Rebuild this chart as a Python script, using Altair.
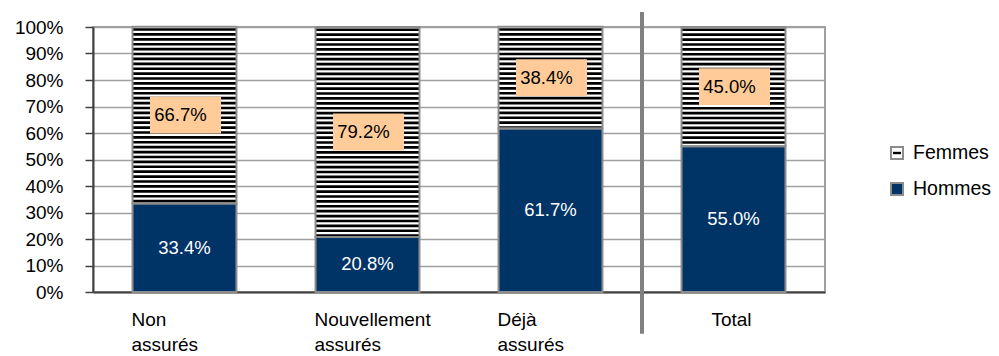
import altair as alt
import pandas as pd

# --- data -------------------------------------------------------------
categories = ["Non assurés", "Nouvellement assurés", "Déjà assurés", "Total"]
hommes = [33.4, 20.8, 61.7, 55.0]
femmes = [66.7, 79.2, 38.4, 45.0]
series = ["Femmes", "Hommes"]
y_ticks = list(range(0, 101, 10))

# --- style ------------------------------------------------------------
NAVY = "#003366"
PEACH = "#FFCC99"
GRID = "#A0A0A0"
EDGE = "#8C8C8C"
AXIS = "#404040"
SEP = "#808080"
FONT = "Liberation Sans"

W, H = 732, 265
PAD_IN = 0.432
PAD_OUT = PAD_IN / 2
STEP = W / len(categories)
# the divider sits on the step boundary just left of the "Total" band
SEP_SHIFT = -(PAD_IN / 2) * STEP
SEP_TOP, SEP_BOTTOM = 105.7, -15.8   # divider overshoots the plot area

STRIPE_STEP, STRIPE_BLACK = 1.85, 1.0  # hatching of the "Femmes" segment

# --- tables built from the arrays ------------------------------------
seg_rows = []
for c, h, f in zip(categories, hommes, femmes):
    seg_rows.append({"cat": c, "serie": "Hommes", "val": h, "y0": 0.0, "y1": h})
    seg_rows.append({"cat": c, "serie": "Femmes", "val": f, "y0": h, "y1": h + f})
seg = pd.DataFrame(seg_rows)
seg["mid"] = (seg["y0"] + seg["y1"]) / 2
seg["label"] = seg["val"].map(lambda v: f"{v:.1f}%")

stripe_rows = []
for c, h, f in zip(categories, hommes, femmes):
    t = h + f - 0.55
    while t > h:
        stripe_rows.append({"cat": c, "s0": t, "s1": max(t - STRIPE_BLACK, h)})
        t -= STRIPE_STEP
stripes = pd.DataFrame(stripe_rows)

sep_df = pd.DataFrame({"cat": ["Total"], "top": [SEP_TOP], "bottom": [SEP_BOTTOM]})

# --- shared scales / axes --------------------------------------------
x_scale = alt.Scale(domain=categories, paddingInner=PAD_IN, paddingOuter=PAD_OUT)
y_scale = alt.Scale(domain=[0, 100], nice=False)

x_axis = alt.Axis(
    title=None,
    ticks=False,
    domainColor=AXIS,
    domainWidth=2,
    labelExpr="split(datum.label, ' ')",
    labelAlign=alt.condition("datum.value == 'Total'", alt.value("center"), alt.value("left")),
    labelOffset=alt.condition("datum.value == 'Total'", alt.value(-2), alt.value(-53)),
    labelFontSize=19,
    labelLineHeight=25,
    labelPadding=18,
    labelAngle=0,
)
y_axis = alt.Axis(
    title=None,
    values=y_ticks,
    labelExpr="datum.value + '%'",
    tickSize=8,
    tickColor=AXIS,
    tickWidth=1.5,
    domainColor=AXIS,
    domainWidth=2,
    gridColor=GRID,
    gridWidth=1.5,
    labelFontSize=19,
    labelPadding=22,
)


def X(field="cat:N", **kw):
    return alt.X(field, scale=x_scale, axis=x_axis, **kw)


def Y(field):
    return alt.Y(field, scale=y_scale, axis=y_axis)


fill_scale = alt.Scale(domain=series, range=["white", NAVY])

bars = alt.Chart(seg).mark_bar(strokeWidth=0).encode(
    x=X(), y=Y("y0:Q"), y2="y1:Q",
    fill=alt.Fill("serie:N", scale=fill_scale, legend=None),
)

hatch = alt.Chart(stripes).mark_bar(color="black", strokeWidth=0).encode(
    x=X(), y=Y("s0:Q"), y2="s1:Q",
)

outline = alt.Chart(seg).mark_bar(fillOpacity=0, stroke=EDGE, strokeWidth=2).encode(
    x=X(), y=Y("y0:Q"), y2="y1:Q",
)

femmes_seg = alt.Chart(seg).transform_filter("datum.serie == 'Femmes'")
hommes_seg = alt.Chart(seg).transform_filter("datum.serie == 'Hommes'")

boxes = femmes_seg.mark_point(
    shape="M-1,-0.52L1,-0.52L1,0.52L-1,0.52Z",
    size=71 * 71, filled=True, fill=PEACH, opacity=1, strokeWidth=0, xOffset=1,
).encode(x=X(), y=Y("mid:Q"))

femmes_txt = femmes_seg.mark_text(
    font=FONT, fontSize=18.5, color="black", dx=-4,
).encode(x=X(), y=Y("mid:Q"), text="label:N")

hommes_txt = hommes_seg.mark_text(
    font=FONT, fontSize=18.5, color="white",
).encode(x=X(), y=Y("mid:Q"), text="label:N")

divider = alt.Chart(sep_df).mark_rule(color=SEP, strokeWidth=4, xOffset=SEP_SHIFT).encode(
    x=X(bandPosition=0), y=Y("top:Q"), y2="bottom:Q",
)

main = alt.layer(
    bars, hatch, outline, boxes, femmes_txt, hommes_txt, divider
).properties(
    width=W, height=H,
    view=alt.ViewBackground(stroke=GRID, strokeWidth=2),
)

# --- legend drawn as its own small panel ------------------------------
leg = pd.DataFrame({"serie": series})
leg_y = alt.Y("serie:N", scale=alt.Scale(type="point", domain=series, range=[126, 162], padding=0), axis=None)

leg_sym = alt.Chart(leg).mark_square(
    size=144, filled=True, stroke=EDGE, strokeWidth=2, opacity=1,
).encode(x=alt.value(21), y=leg_y, fill=alt.Fill("serie:N", scale=fill_scale, legend=None))

leg_bar = alt.Chart(leg).transform_filter("datum.serie == 'Femmes'").mark_point(
    shape="M-1,-0.3L1,-0.3L1,0.3L-1,0.3Z", size=64, filled=True, fill="black", opacity=1, strokeWidth=0,
).encode(x=alt.value(21), y=leg_y)

leg_txt = alt.Chart(leg).mark_text(
    font=FONT, fontSize=19.5, align="left", color="black",
).encode(x=alt.value(37), y=leg_y, text="serie:N")

legend = alt.layer(leg_sym, leg_bar, leg_txt).properties(width=110, height=H)

chart = alt.hconcat(main, legend, spacing=50).properties(
    padding={"left": 13, "top": 8, "right": 0, "bottom": 0},
).configure_view(stroke=None).configure_axis(
    labelFont=FONT, labelColor="black",
).configure_text(font=FONT)

chart.save("out.html", embed_options={"renderer": "svg", "actions": False})
